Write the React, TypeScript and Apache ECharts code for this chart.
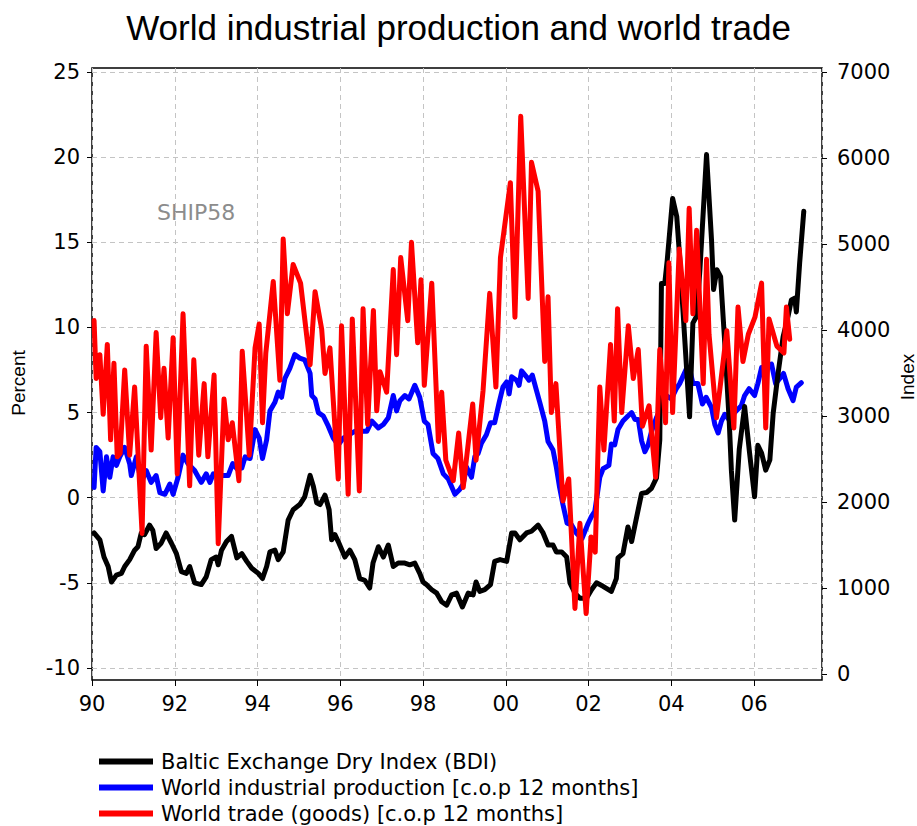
import React, { useEffect, useRef } from "react";
import * as echarts from "echarts";

const TITLE = "World industrial production and world trade";
const WATERMARK = "SHIP58";
const LEFT_NAME = "Percent";
const RIGHT_NAME = "Index";
const NAME_BDI = "Baltic Exchange Dry Index (BDI)";
const NAME_IP = "World industrial production [c.o.p 12 months]";
const NAME_TRADE = "World trade (goods) [c.o.p 12 months]";

// x axis: decimal years
const X_MIN = 1990;
const X_MAX = 2007.64;
const X_STEP = 2;
const LEFT_MIN = -10;
const LEFT_MAX = 25;
const LEFT_STEP = 5;
const RIGHT_MIN = 0;
const RIGHT_MAX = 7000;
const RIGHT_STEP = 1000;

// World trade (goods), % change on 12 months
const tradeT = [
  1990.05, 1990.10, 1990.19, 1990.27, 1990.37, 1990.45, 1990.53, 1990.61, 1990.68, 1990.79,
  1990.91, 1991.03, 1991.11, 1991.21, 1991.31, 1991.43, 1991.55, 1991.66, 1991.74, 1991.84,
  1991.96, 1992.06, 1992.20, 1992.36, 1992.46, 1992.58, 1992.71, 1992.80, 1992.95, 1993.05,
  1993.19, 1993.29, 1993.39, 1993.55, 1993.63, 1993.80, 1993.94, 1994.04, 1994.12, 1994.20,
  1994.38, 1994.54, 1994.62, 1994.72, 1994.86, 1995.04, 1995.27, 1995.39, 1995.55, 1995.63,
  1995.75, 1995.95, 1996.03, 1996.19, 1996.29, 1996.46, 1996.55, 1996.66, 1996.80, 1996.88,
  1996.96, 1997.12, 1997.28, 1997.36, 1997.46, 1997.63, 1997.72, 1997.87, 1997.95, 1998.03,
  1998.21, 1998.37, 1998.45, 1998.55, 1998.73, 1998.86, 1998.97, 1999.20, 1999.28, 1999.45,
  1999.61, 1999.76, 1999.87, 2000.11, 2000.22, 2000.36, 2000.54, 2000.62, 2000.78, 2000.94,
  2001.02, 2001.10, 2001.21, 2001.38, 2001.52, 2001.67, 2001.79, 2001.94, 2002.06, 2002.16,
  2002.27, 2002.37, 2002.53, 2002.62, 2002.70, 2002.80, 2002.96, 2003.08, 2003.20, 2003.30,
  2003.46, 2003.62, 2003.72, 2003.86, 2003.94, 2004.03, 2004.19, 2004.35, 2004.43, 2004.52,
  2004.61, 2004.77, 2004.85, 2004.91, 2005.09, 2005.34, 2005.51, 2005.61, 2005.73, 2005.86,
  2006.02, 2006.18, 2006.28, 2006.36, 2006.55, 2006.72, 2006.78, 2006.86,
];
const tradeV = [
  10.4, 7.0, 8.4, 4.9, 9.0, 3.4, 7.9, 2.4, 2.6, 7.5,
  2.5, 6.5, 2.7, -2.1, 8.9, 2.8, 9.7, 4.7, 7.6, 3.5,
  9.4, 1.4, 10.8, 0.7, 8.1, 2.5, 6.7, 2.4, 7.2, -2.7,
  5.8, 3.4, 4.4, 1.0, 8.6, 2.5, 8.8, 10.2, 4.4, 8.5,
  12.7, 6.9, 15.2, 10.8, 13.7, 12.6, 7.8, 12.1, 9.9, 7.3,
  8.8, 1.1, 10.1, 0.2, 10.5, 0.4, 11.1, 4.3, 11.0, 5.1,
  7.4, 6.2, 13.4, 8.4, 14.1, 10.4, 15.0, 9.1, 12.8, 6.6,
  12.6, 3.3, 6.2, 2.2, 1.0, 3.8, 0.6, 5.5, 2.2, 6.3,
  12.0, 6.5, 14.1, 18.5, 10.6, 22.4, 11.7, 19.7, 18.0, 8.0,
  11.8, 5.0, 6.7, -0.2, 1.1, -6.5, -1.5, -6.8, -2.3, -3.2,
  6.5, 2.8, 9.0, 4.5, 11.1, 5.0, 10.1, 7.0, 8.7, 4.2,
  5.4, 1.2, 8.7, 4.4, 13.8, 5.0, 14.6, 10.4, 17.0, 10.8,
  15.7, 6.7, 14.0, 9.6, 4.7, 9.8, 4.1, 11.2, 8.0, 9.6,
  10.6, 12.6, 4.1, 10.5, 8.9, 8.5, 11.2, 9.3,
];

// World industrial production, % change on 12 months
const ipT = [
  1990.05, 1990.10, 1990.19, 1990.27, 1990.35, 1990.43, 1990.51, 1990.59, 1990.67, 1990.79,
  1990.91, 1990.95, 1991.07, 1991.19, 1991.31, 1991.43, 1991.55, 1991.64, 1991.76, 1991.88,
  1991.96, 1992.08, 1992.20, 1992.32, 1992.48, 1992.64, 1992.76, 1992.85, 1992.93, 1993.05,
  1993.17, 1993.29, 1993.40, 1993.50, 1993.62, 1993.70, 1993.82, 1993.94, 1994.04, 1994.12,
  1994.22, 1994.30, 1994.42, 1994.50, 1994.58, 1994.66, 1994.78, 1994.90, 1995.02, 1995.14,
  1995.27, 1995.31, 1995.39, 1995.47, 1995.59, 1995.71, 1995.83, 1995.95, 1996.07, 1996.35,
  1996.64, 1996.76, 1996.92, 1997.04, 1997.16, 1997.28, 1997.36, 1997.44, 1997.56, 1997.66,
  1997.80, 1997.92, 1998.03, 1998.12, 1998.24, 1998.36, 1998.49, 1998.61, 1998.77, 1998.89,
  1998.97, 1999.05, 1999.17, 1999.25, 1999.33, 1999.41, 1999.53, 1999.63, 1999.73, 1999.84,
  1999.93, 2000.02, 2000.08, 2000.14, 2000.26, 2000.32, 2000.38, 2000.50, 2000.56, 2000.64,
  2000.74, 2000.82, 2000.94, 2001.02, 2001.14, 2001.22, 2001.30, 2001.38, 2001.48, 2001.59,
  2001.71, 2001.84, 2001.99, 2002.07, 2002.15, 2002.27, 2002.35, 2002.49, 2002.55, 2002.63,
  2002.71, 2002.83, 2002.95, 2003.04, 2003.12, 2003.20, 2003.28, 2003.36, 2003.44, 2003.52,
  2003.64, 2003.76, 2003.88, 2004.00, 2004.12, 2004.20, 2004.36, 2004.44, 2004.52, 2004.64,
  2004.75, 2004.84, 2004.97, 2005.05, 2005.13, 2005.21, 2005.29, 2005.39, 2005.53, 2005.69,
  2005.77, 2005.88, 2006.01, 2006.09, 2006.18, 2006.30, 2006.42, 2006.52, 2006.62, 2006.71,
  2006.82, 2006.94, 2007.02, 2007.14,
];
const ipV = [
  0.6, 2.95, 2.7, 0.4, 2.4, 1.2, 2.4, 1.9, 2.4, 2.95,
  2.0, 1.3, 2.4, 0.9, 1.6, 0.9, 1.3, 0.3, 0.2, 0.8,
  0.2, 1.2, 2.5, 2.0, 1.6, 0.9, 1.4, 0.9, 1.4, 1.3,
  1.3, 1.3, 2.0, 1.7, 1.75, 2.4, 2.3, 4.0, 3.5, 2.3,
  3.4, 5.1, 5.6, 6.2, 5.9, 7.0, 7.6, 8.4, 8.2, 8.1,
  7.3, 6.0, 5.8, 5.0, 4.8, 4.2, 3.5, 3.1, 3.5, 3.9,
  3.9, 4.5, 4.1, 4.3, 4.7, 6.0, 5.1, 5.7, 6.0, 5.8,
  6.6, 5.9, 4.5, 4.3, 2.6, 2.3, 1.4, 1.1, 0.2, 0.5,
  0.8, 1.8, 1.2, 2.4, 2.6, 3.2, 3.7, 4.4, 4.4, 5.6,
  6.5, 6.8, 6.1, 7.1, 6.9, 6.6, 7.45, 7.1, 6.9, 7.2,
  6.3, 5.6, 4.5, 3.3, 2.8, 1.8, 0.6, -0.4, -1.5, -1.6,
  -2.1, -2.4, -1.5, -1.1, -0.8, 1.2, 1.7, 1.9, 3.15, 3.1,
  4.0, 4.5, 4.8, 5.0, 4.6, 4.6, 3.35, 2.7, 3.1, 3.9,
  4.7, 5.3, 6.0, 5.8, 6.4, 6.7, 7.55, 7.6, 6.7, 6.7,
  5.5, 5.9, 5.3, 4.3, 3.8, 4.5, 4.9, 4.6, 5.0, 5.4,
  6.0, 6.4, 6.0, 6.7, 7.65, 7.7, 7.85, 6.7, 7.0, 7.3,
  6.4, 5.7, 6.5, 6.75,
];

// Baltic Exchange Dry Index (index points, right axis)
const bdiT = [
  1990.05, 1990.19, 1990.29, 1990.39, 1990.47, 1990.59, 1990.71, 1990.79, 1990.91, 1991.03,
  1991.11, 1991.19, 1991.27, 1991.39, 1991.47, 1991.55, 1991.67, 1991.79, 1991.92, 1992.04,
  1992.16, 1992.28, 1992.36, 1992.48, 1992.64, 1992.76, 1992.88, 1993.00, 1993.05, 1993.13,
  1993.25, 1993.37, 1993.50, 1993.62, 1993.74, 1993.86, 1994.02, 1994.12, 1994.22, 1994.30,
  1994.42, 1994.50, 1994.62, 1994.74, 1994.86, 1995.02, 1995.14, 1995.27, 1995.35, 1995.43,
  1995.51, 1995.63, 1995.73, 1995.79, 1995.87, 1995.95, 1996.11, 1996.23, 1996.35, 1996.47,
  1996.59, 1996.71, 1996.79, 1996.92, 1997.04, 1997.16, 1997.28, 1997.40, 1997.56, 1997.68,
  1997.80, 1997.92, 1998.00, 1998.08, 1998.21, 1998.33, 1998.45, 1998.57, 1998.69, 1998.81,
  1998.95, 1999.09, 1999.21, 1999.28, 1999.37, 1999.49, 1999.63, 1999.73, 1999.86, 2000.02,
  2000.14, 2000.22, 2000.34, 2000.50, 2000.62, 2000.78, 2000.90, 2001.02, 2001.14, 2001.22,
  2001.35, 2001.47, 2001.55, 2001.67, 2001.79, 2001.95, 2002.07, 2002.19, 2002.35, 2002.55,
  2002.67, 2002.71, 2002.83, 2002.95, 2003.04, 2003.12, 2003.28, 2003.40, 2003.52, 2003.64,
  2003.72, 2003.76, 2003.84, 2003.90, 2004.03, 2004.13, 2004.20, 2004.32, 2004.44, 2004.52,
  2004.61, 2004.69, 2004.85, 2004.97, 2005.02, 2005.10, 2005.19, 2005.29, 2005.40, 2005.45,
  2005.53, 2005.64, 2005.77, 2005.89, 2006.01, 2006.09, 2006.18, 2006.28, 2006.38, 2006.46,
  2006.58, 2006.70, 2006.82, 2006.90, 2006.98, 2007.02, 2007.10, 2007.20,
];
const bdiV = [
  1640, 1560, 1360, 1250, 1070, 1150, 1170, 1250, 1330, 1440,
  1480, 1640, 1620, 1730, 1670, 1460, 1520, 1640, 1520, 1400,
  1190, 1170, 1250, 1060, 1040, 1130, 1330, 1360, 1270, 1440,
  1540, 1600, 1350, 1400, 1310, 1230, 1170, 1110, 1250, 1420,
  1440, 1330, 1420, 1790, 1910, 1970, 2060, 2310, 2180, 1990,
  1970, 2080, 1910, 1560, 1620, 1540, 1360, 1440, 1330, 1110,
  1090, 1000, 1290, 1480, 1360, 1500, 1250, 1290, 1290, 1270,
  1290, 1170, 1070, 1040, 980, 940, 840, 800, 920, 940,
  780, 940, 920, 1070, 960, 980, 1040, 1310, 1330, 1310,
  1640, 1640, 1560, 1640, 1660, 1730, 1640, 1500, 1500, 1420,
  1420, 1360, 1060, 940, 880, 880, 980, 1060, 1020, 960,
  1110, 1350, 1400, 1710, 1540, 1730, 2100, 2110, 2160, 2280,
  2720, 4540, 4540, 4810, 5530, 5320, 4850, 3920, 2990, 4080,
  4160, 4700, 6040, 5050, 4470, 4700, 4620, 3850, 2920, 2370,
  1790, 2610, 3110, 2570, 2060, 2660, 2570, 2370, 2490, 3030,
  3500, 3920, 4160, 4350, 4370, 4210, 4780, 5380,
];

const FONT = "'Liberation Sans', Arial, Helvetica, sans-serif";
const WIDE = "'DejaVu Sans', Verdana, sans-serif";

const pairs = (t: number[], v: number[]) => t.map((x, i) => [x, v[i]]);

export default function App() {
  const ref = useRef<HTMLDivElement>(null);
  useEffect(() => {
    if (!ref.current) return;
    const chart = echarts.init(ref.current, null, { renderer: "svg" });
    const W = 917;
    const plotLeft = 92;
    const plotRight = 822;
    const frameTop = 68;
    const frameBottom = 680;
    const lineWidth = 5;
    const xLabel = (v: number) => {
      const r = Math.round(v);
      if (Math.abs(v - r) > 1e-6 || r % 2 !== 0) return "";
      return String(r % 100).padStart(2, "0");
    };
    const hiddenX = (gi: number) => ({
      type: "value",
      gridIndex: gi,
      min: X_MIN,
      max: X_MAX,
      show: false,
      splitLine: { show: false },
    });
    chart.setOption({
      animation: false,
      backgroundColor: "#ffffff",
      textStyle: { fontFamily: FONT },
      title: {
        text: TITLE,
        left: "center",
        top: 5,
        textStyle: { fontFamily: FONT, fontSize: 35, fontWeight: "normal", color: "#000" },
      },
      legend: {
        orient: "vertical",
        left: 94,
        top: 746,
        height: 80,
        icon: "rect",
        itemWidth: 54,
        itemHeight: 6,
        itemGap: 5,
        data: [NAME_BDI, NAME_IP, NAME_TRADE],
        textStyle: {
          fontFamily: WIDE,
          fontSize: 21,
          lineHeight: 20,
          color: "#000",
          padding: [0, 0, 0, 3],
        },
        selectedMode: false,
      },
      grid: [
        {
          left: plotLeft,
          right: W - plotRight,
          top: frameTop,
          height: frameBottom - frameTop,
          show: true,
          borderColor: "#000",
          borderWidth: 1.5,
          backgroundColor: "transparent",
          outerBoundsMode: "none",
        },
        { left: plotLeft, right: W - plotRight, top: 72, height: 596, outerBoundsMode: "none" },
        { left: plotLeft, right: W - plotRight, top: 72, height: 602, outerBoundsMode: "none" },
      ],
      xAxis: [
        {
          type: "value",
          gridIndex: 0,
          min: X_MIN,
          max: X_MAX,
          interval: X_STEP,
          axisLine: { show: false },
          axisTick: { show: true, inside: false, length: 6, lineStyle: { color: "#000", width: 1 } },
          axisLabel: {
            formatter: xLabel,
            margin: 13,
            fontFamily: WIDE,
            fontSize: 21,
            color: "#000",
            showMaxLabel: false,
          },
          splitLine: { show: true, lineStyle: { color: "#c4c4c4", type: [5, 4], width: 1 } },
        },
        hiddenX(1),
        hiddenX(2),
      ],
      yAxis: [
        { type: "value", gridIndex: 0, min: 0, max: 1, show: false, splitLine: { show: false } },
        {
          type: "value",
          gridIndex: 1,
          position: "left",
          min: LEFT_MIN,
          max: LEFT_MAX,
          interval: LEFT_STEP,
          axisLine: { show: false },
          axisTick: { show: true, inside: false, length: 5, lineStyle: { color: "#000", width: 1 } },
          axisLabel: { margin: 12, fontFamily: WIDE, fontSize: 21, color: "#000" },
          splitLine: { show: true, lineStyle: { color: "#c4c4c4", type: [5, 4], width: 1 } },
        },
        {
          type: "value",
          gridIndex: 2,
          position: "right",
          min: RIGHT_MIN,
          max: RIGHT_MAX,
          interval: RIGHT_STEP,
          axisLine: { show: false },
          axisTick: { show: true, inside: false, length: 5, lineStyle: { color: "#000", width: 1 } },
          axisLabel: {
            margin: 15,
            fontFamily: WIDE,
            fontSize: 21,
            color: "#000",
            formatter: (v: number) => String(v),
          },
          splitLine: { show: false },
        },
      ],
      series: [
        {
          name: NAME_IP,
          type: "line",
          xAxisIndex: 1,
          yAxisIndex: 1,
          data: pairs(ipT, ipV),
          showSymbol: false,
          symbol: "none",
          color: "#0000ff",
          lineStyle: { color: "#0000ff", width: lineWidth, join: "round", cap: "round" },
        },
        {
          name: NAME_BDI,
          type: "line",
          xAxisIndex: 2,
          yAxisIndex: 2,
          data: pairs(bdiT, bdiV),
          showSymbol: false,
          symbol: "none",
          color: "#000000",
          lineStyle: { color: "#000000", width: lineWidth, join: "round", cap: "round" },
        },
        {
          name: NAME_TRADE,
          type: "line",
          xAxisIndex: 1,
          yAxisIndex: 1,
          data: pairs(tradeT, tradeV),
          showSymbol: false,
          symbol: "none",
          color: "#ff0000",
          lineStyle: { color: "#ff0000", width: lineWidth, join: "round", cap: "round" },
        },
      ],
      graphic: [
        {
          type: "text",
          left: 157,
          top: 201,
          style: { text: WATERMARK, fontFamily: WIDE, fontSize: 22, fill: "#8c8c8c" },
        },
        {
          type: "text",
          x: 18,
          y: 383,
          rotation: Math.PI / 2,
          style: {
            text: LEFT_NAME,
            fontFamily: FONT,
            fontSize: 19,
            fill: "#000",
            align: "center",
            verticalAlign: "middle",
          },
        },
        {
          type: "text",
          x: 907,
          y: 377,
          rotation: Math.PI / 2,
          style: {
            text: RIGHT_NAME,
            fontFamily: FONT,
            fontSize: 19,
            fill: "#000",
            align: "center",
            verticalAlign: "middle",
          },
        },
      ],
    });
    return () => chart.dispose();
  }, []);
  return (
    <div
      ref={ref}
      style={{ position: "absolute", left: 0, top: 0, width: 917, height: 826, background: "#fff" }}
    />
  );
}
